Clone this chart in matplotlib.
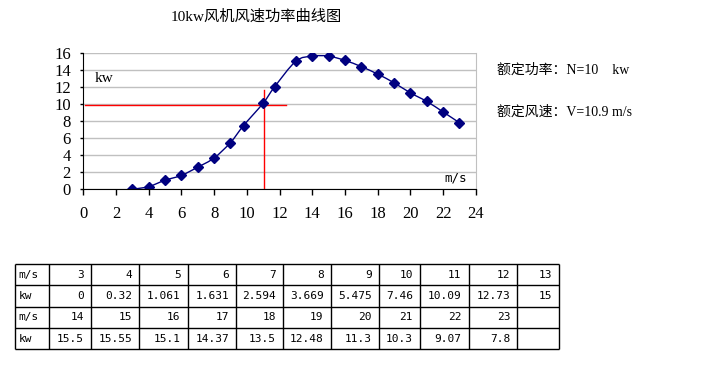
import numpy as np
import matplotlib.pyplot as plt
from matplotlib.path import Path
from matplotlib.patches import PathPatch

plt.rcParams['font.family'] = ['Liberation Serif', 'Noto Sans CJK SC', 'DejaVu Sans']

# points as drawn on the chart
speed_pts = [3, 4, 5, 6, 7, 8, 9, 9.8, 11, 11.7, 13, 14, 15, 16, 17, 18, 19, 20, 21, 22, 23]
power_pts = [0, 0.32, 1.061, 1.631, 2.594, 3.669, 5.475, 7.46, 10.09, 12.0, 15,
             15.6, 15.6, 15.1, 14.37, 13.5, 12.48, 11.3, 10.3, 9.07, 7.8]

# table values
tbl_speed1 = ['3', '4', '5', '6', '7', '8', '9', '10', '11', '12', '13']
tbl_power1 = ['0', '0.32', '1.061', '1.631', '2.594', '3.669', '5.475', '7.46', '10.09', '12.73', '15']
tbl_speed2 = ['14', '15', '16', '17', '18', '19', '20', '21', '22', '23', '']
tbl_power2 = ['15.5', '15.55', '15.1', '14.37', '13.5', '12.48', '11.3', '10.3', '9.07', '7.8', '']
row_labels = ['m/s', 'kw', 'm/s', 'kw']
col_widths = [34.6, 41.7, 48.3, 48.4, 48.3, 47, 47.7, 48.3, 41, 48.7, 48.6, 42]

rated_power = 10
rated_speed = 10.9

NAVY = '#000080'
GRID = '#c0c0c0'


def smooth_path(xs, ys):
    # excel-like smoothed line: catmull-rom as cubic bezier
    pts = np.column_stack([xs, ys]).astype(float)
    n = len(pts)
    verts = [pts[0]]
    codes = [Path.MOVETO]
    for i in range(n - 1):
        p0 = pts[max(i - 1, 0)]
        p1 = pts[i]
        p2 = pts[i + 1]
        p3 = pts[min(i + 2, n - 1)]
        c1 = p1 + (p2 - p0) / 6
        c2 = p2 - (p3 - p1) / 6
        verts += [c1, c2, p2]
        codes += [Path.CURVE4] * 3
    return Path(verts, codes)


fig = plt.figure(figsize=(7.1, 3.69), dpi=100)

ax = fig.add_axes([83.3 / 710, 1 - 189.3 / 369, 392.4 / 710, 136.6 / 369])
ax.set_xlim(0, 24)
ax.set_ylim(0, 16)
ax.set_xticks(np.arange(0, 25, 2))
ax.set_yticks(np.arange(0, 17, 2))
ax.yaxis.grid(True, color=GRID, lw=1)
ax.set_axisbelow(True)
ax.spines['top'].set_visible(False)
ax.spines['right'].set_color(GRID)
ax.spines['left'].set_color('black')
ax.spines['bottom'].set_color('black')
ax.tick_params(axis='x', length=4, width=1, pad=8, labelsize=12)
ax.tick_params(axis='y', length=2, width=1, pad=7, labelsize=12)

# rated lines
ax.plot([0.1, 12.4], [9.85, 9.85], color='red', lw=1)
ax.plot([11.07, 11.07], [0, 11.63], color='red', lw=1)

ax.add_patch(PathPatch(smooth_path(speed_pts, power_pts), fill=False, edgecolor=NAVY, lw=1))
ax.plot(speed_pts, power_pts, linestyle='none', marker='D', color=NAVY, markersize=5)

ax.text(0.72, 13.0, 'kw', fontsize=11, va='center', ha='left')
ax.text(22.1, 1.3, 'm/s', fontsize=9, va='center', ha='left', family='DejaVu Sans Mono')

fig.text(256.5 / 710, 1 - 17 / 369, '10kw风机风速功率曲线图', fontsize=11, ha='center', va='center')
fig.text(497 / 710, 1 - 70 / 369, f'额定功率：N={rated_power}    kw', fontsize=10, ha='left', va='center')
fig.text(497 / 710, 1 - 112 / 369, f'额定风速：V={rated_speed} m/s', fontsize=10, ha='left', va='center')

# data table
tw = sum(col_widths)
tax = fig.add_axes([14.7 / 710, 1 - 349.3 / 369, tw / 710, 85.3 / 369])
tax.set_xlim(0, tw)
tax.set_ylim(4, 0)
tax.axis('off')
edges = np.concatenate([[0], np.cumsum(col_widths)])
tax.hlines(np.arange(5), 0, tw, color='black', lw=1, clip_on=False)
tax.vlines(edges, 0, 4, color='black', lw=1, clip_on=False)
rows = [tbl_speed1, tbl_power1, tbl_speed2, tbl_power2]
for r, (label, vals) in enumerate(zip(row_labels, rows)):
    tax.text(edges[0] + 4, r + 0.5, label, ha='left', va='center', fontsize=8, family='DejaVu Sans Mono')
    for c, v in enumerate(vals):
        tax.text(edges[c + 2] - 7, r + 0.5, v, ha='right', va='center', fontsize=8, family='DejaVu Sans Mono')

fig.savefig('out.png', dpi=100)
